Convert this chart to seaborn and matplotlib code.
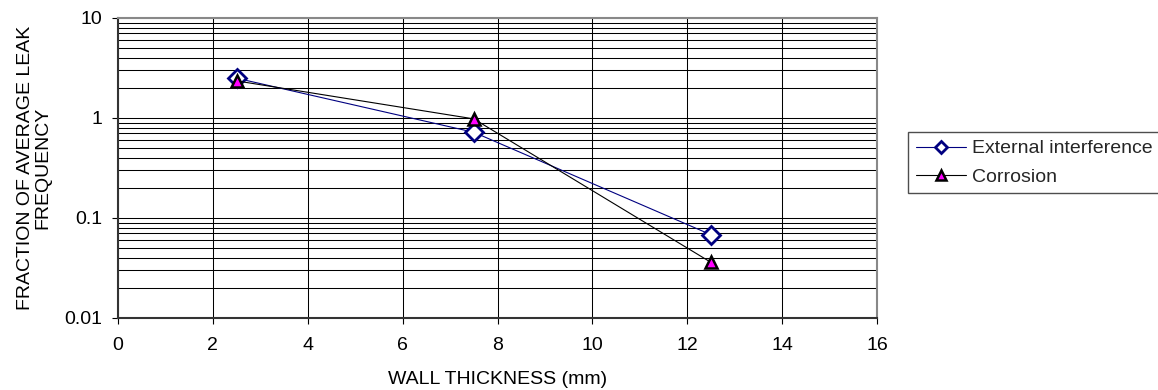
import matplotlib
matplotlib.use("Agg")
import matplotlib.pyplot as plt
import matplotlib.ticker as mticker
import seaborn as sns
import pandas as pd

wall_thickness = [2.5, 7.5, 12.5]
external_interference = [2.5, 0.72, 0.068]
corrosion = [2.35, 0.98, 0.036]
series_names = ["External interference", "Corrosion"]
x_ticks = [0, 2, 4, 6, 8, 10, 12, 14, 16]
y_ticks = [0.01, 0.1, 1, 10]
y_tick_labels = ["0.01", "0.1", "1", "10"]

df = pd.DataFrame({
    "x": wall_thickness * 2,
    "y": external_interference + corrosion,
    "series": [series_names[0]] * 3 + [series_names[1]] * 3,
})

sns.set_theme(style="white")
plt.rcParams['font.family'] = ['Liberation Sans', 'DejaVu Sans']
FS = 14

fig = plt.figure(figsize=(11.58, 3.9), dpi=100)
ax = fig.add_axes([118 / 1158, 1 - 318 / 390, 759 / 1158, 300 / 390])

sns.lineplot(data=df[df.series == series_names[0]], x="x", y="y", ax=ax,
             color="#000080", linewidth=0.8, marker="D", markersize=9,
             markerfacecolor="white", markeredgecolor="#000080", markeredgewidth=2,
             label=series_names[0], zorder=3)
sns.lineplot(data=df[df.series == series_names[1]], x="x", y="y", ax=ax,
             color="black", linewidth=0.8, marker="^", markersize=8,
             markerfacecolor="#FF00FF", markeredgecolor="black", markeredgewidth=1.8,
             label=series_names[1], zorder=4)

ax.set_yscale("log")
ax.set_ylim(0.01, 10)
ax.set_xlim(0, 16)
ax.set_xticks(x_ticks)
ax.set_xticklabels([str(t) for t in x_ticks])
ax.set_yticks(y_ticks)
ax.set_yticklabels(y_tick_labels)
ax.yaxis.set_minor_locator(mticker.LogLocator(base=10, subs=range(2, 10)))
ax.yaxis.set_minor_formatter(mticker.NullFormatter())

ax.grid(True, which="major", axis="both", color="black", linewidth=0.75)
ax.grid(True, which="minor", axis="y", color="black", linewidth=0.75)
ax.set_axisbelow(True)

ax.tick_params(axis="x", which="major", direction="out", length=4, width=0.8,
               color="black", labelsize=FS, labelcolor="black", bottom=True, pad=10)
ax.tick_params(axis="y", which="major", direction="out", length=4, width=0.8,
               color="black", labelsize=FS, labelcolor="black", left=True, pad=7)
ax.tick_params(axis="y", which="minor", length=0, left=False)
for side in ["left", "bottom"]:
    ax.spines[side].set_color("#333333")
    ax.spines[side].set_linewidth(1.5)
for side in ["top", "right"]:
    ax.spines[side].set_color("#888888")
    ax.spines[side].set_linewidth(1.5)

ax.set_xlabel("WALL THICKNESS (mm)", fontsize=FS, color="black")
ax.xaxis.label.set_va("center")
ax.xaxis.set_label_coords(0.5, (318 - 380) / 300)
ax.set_ylabel("FRACTION OF AVERAGE LEAK\nFREQUENCY", fontsize=FS, color="black",
              linespacing=1.0)
ax.yaxis.label.set_va("center")
ax.yaxis.set_label_coords((34 - 118) / 759, 0.5)

leg = fig.legend(*ax.get_legend_handles_labels(), loc="upper left",
                 bbox_to_anchor=(908 / 1158, 1 - 132 / 390), frameon=True,
                 fancybox=False, edgecolor="#222222", fontsize=FS, handlelength=2.6,
                 borderpad=0.4, labelspacing=0.55, handletextpad=0.3,
                 borderaxespad=0)
leg.get_frame().set_linewidth(1.0)
leg_handles = leg.legend_handles
leg_handles[0].set_markersize(6.5)
leg_handles[1].set_markersize(7.5)
ax.get_legend().remove()

fig.savefig("out.png", dpi=100)
